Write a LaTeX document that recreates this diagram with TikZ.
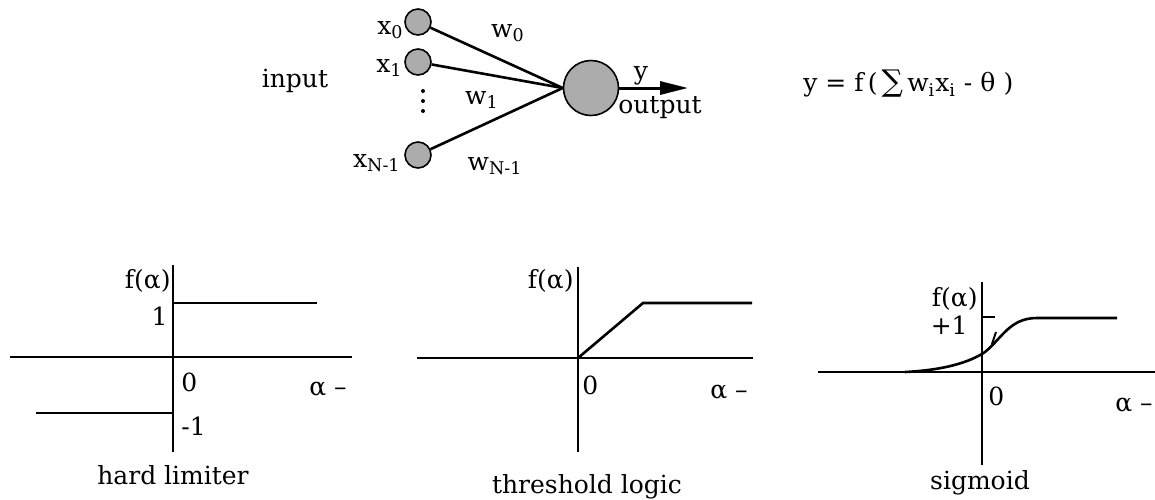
\documentclass[tikz,border=0pt]{standalone}
\usepackage{fontspec}
\setmainfont{DejaVu Serif}
\usetikzlibrary{arrows.meta}
\begin{document}
\begin{tikzpicture}[x=0.5pt,y=-0.5pt,
  lbl/.style={inner sep=0pt,font=\fontsize{12.5}{14}\selectfont},
  small/.style={circle,draw,line width=0.8pt,fill=gray!65,minimum size=13pt,inner sep=0pt},
  big/.style={circle,draw,line width=0.8pt,fill=gray!65,minimum size=27.5pt,inner sep=0pt},
  dot/.style={circle,fill,inner sep=0pt,minimum size=2pt},
  wire/.style={line width=1.3pt},
  axis/.style={line width=1pt},
  curve/.style={line width=1.3pt}]
\useasboundingbox (0,0) rectangle (1155,499);
% neuron
\node[lbl] (input) at (295,81) {input};
\node[small] (x0) at (418,22) {};
\node[small] (x1) at (418,62) {};
\node[small] (xn) at (418,155) {};
\node[big] (n) at (591,88) {};
\node[lbl,anchor=east] (lx0) at (404,30) {x\textsubscript{0}};
\node[lbl,anchor=east] (lx1) at (403,68) {x\textsubscript{1}};
\node[lbl,anchor=east] (lxn) at (401,163) {x\textsubscript{N-1}};
\node[dot] (d1) at (423,91) {};
\node[dot] (d2) at (423,101) {};
\node[dot] (d3) at (423,111) {};
\draw[wire] (x0) -- (n.west);
\draw[wire] (x1) -- (n.west);
\draw[wire] (xn) -- (n.west);
\node[lbl] (w0) at (508,33) {w\textsubscript{0}};
\node[lbl] (w1) at (482,100) {w\textsubscript{1}};
\node[lbl] (wn) at (495,166) {w\textsubscript{N-1}};
\coordinate (tip) at (688,88);
\draw[line width=1.5pt,-{Triangle[length=14pt,width=6.5pt]}] (n.east) -- (tip);
\node[lbl] (y) at (641,76) {y};
\node[lbl] (out) at (660,108) {output};
\node[lbl,anchor=west] (eq) at (803,84) {y = f\,(\,{\fontsize{15}{15}\selectfont ∑}\,w\textsubscript{i}x\textsubscript{i} - θ\,\,)};
% hard limiter
\coordinate (a1t) at (173,265); \coordinate (a1b) at (173,452);
\coordinate (a1l) at (10,357); \coordinate (a1r) at (352,357);
\draw[axis] (a1t) -- (a1b);
\draw[axis] (a1l) -- (a1r);
\coordinate (h1a) at (173,303); \coordinate (h1b) at (317,303);
\coordinate (h2a) at (36,413); \coordinate (h2b) at (173,413);
\draw[curve] (h1a) -- (h1b);
\draw[curve] (h2a) -- (h2b);
\node[lbl,anchor=east] (f1) at (171,281) {f(α)};
\node[lbl,anchor=east] (one1) at (168,316) {1};
\node[lbl,anchor=west] (z1) at (181,382) {0};
\node[lbl] (al1) at (328,389) {α –};
\node[lbl,anchor=west] (m1) at (181,426) {-1};
\node[lbl] (t1) at (173,475) {hard limiter};
% threshold logic
\coordinate (a2t) at (578,267); \coordinate (a2b) at (578,452);
\coordinate (a2l) at (417,358); \coordinate (a2r) at (753,358);
\draw[axis] (a2t) -- (a2b);
\draw[axis] (a2l) -- (a2r);
\coordinate (r0) at (578,358); \coordinate (r1) at (643,303); \coordinate (r2) at (752,303);
\draw[curve] (r0) -- (r1) -- (r2);
\node[lbl,anchor=east] (f2) at (574,281) {f(α)};
\node[lbl,anchor=west] (z2) at (582,385) {0};
\node[lbl] (al2) at (729,392) {α –};
\node[lbl] (t2) at (587,487) {threshold logic};
% sigmoid
\coordinate (a3t) at (982,282); \coordinate (a3b) at (982,465);
\coordinate (a3l) at (818,372); \coordinate (a3r) at (1155,372);
\draw[axis] (a3t) -- (a3b);
\draw[axis] (a3l) -- (a3r);
\coordinate (s0) at (905,372); \coordinate (s1) at (1037,318); \coordinate (s2) at (1117,318);
\draw[curve] (s0) .. controls (945,370) and (970,362) .. (985,352)
  .. controls (1002,338) and (1010,318) .. (s1) -- (s2);
\coordinate (k0) at (982,317); \coordinate (k1) at (995,317);
\draw[axis] (k0) -- (k1);
\coordinate (m0) at (996,332); \coordinate (m1) at (992,344);
\draw[line width=1pt] (m0) -- (m1);
\node[lbl,anchor=east] (f3) at (978,299) {f(α)};
\node[lbl,anchor=east] (p3) at (968,325) {+1};
\node[lbl,anchor=west] (z3) at (988,396) {0};
\node[lbl,anchor=west] (al3) at (1115,405) {α –};
\node[lbl] (t3) at (980,483) {sigmoid};
\end{tikzpicture}
\end{document}
